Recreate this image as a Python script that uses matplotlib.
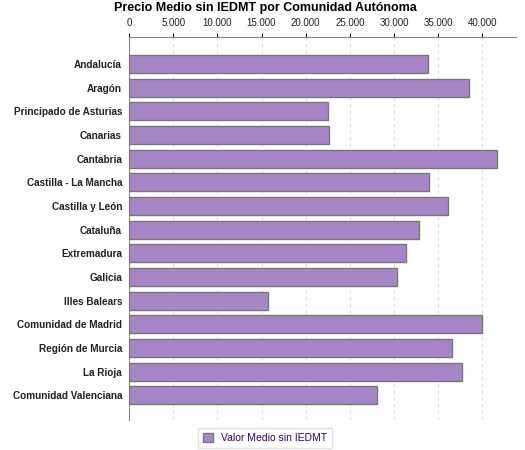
import matplotlib
matplotlib.use("Agg")
import matplotlib.pyplot as plt
from matplotlib.ticker import FuncFormatter

plt.rcParams['font.family'] = ['Liberation Sans', 'DejaVu Sans']

categories = ["Andalucía", "Aragón", "Principado de Asturias", "Canarias", "Cantabria",
              "Castilla - La Mancha", "Castilla y León", "Cataluña", "Extremadura", "Galicia",
              "Illes Balears", "Comunidad de Madrid", "Región de Murcia", "La Rioja",
              "Comunidad Valenciana"]
values = [33800, 38500, 22500, 22600, 41700, 34000, 36100, 32800, 31400, 30300,
          15700, 39900, 36500, 37700, 28100]

fig = plt.figure(figsize=(5.25, 4.5), dpi=100)
ax = fig.add_axes([129/525, 1-420/450, (516-129)/525, (420-37)/450])
ys = list(range(len(categories)))
ax.barh(ys, values, height=0.76, color="#a786c8", edgecolor="#777777", linewidth=1,
        label="Valor Medio sin IEDMT", zorder=3)
ax.set_ylim(len(categories)-1+1.05, -1.15)
ax.set_xlim(0, 43800)
ax.set_yticks(ys)
ax.set_yticklabels(categories, fontsize=7.2, fontweight="bold", color="#222222")
ax.set_xticks(range(0, 40001, 5000))
ax.xaxis.set_major_formatter(FuncFormatter(lambda v, p: f"{int(v):,}".replace(",", ".")))
ax.tick_params(axis="x", top=True, labeltop=True, bottom=False, labelbottom=False,
               labelsize=7, length=3, colors="#222222")
ax.tick_params(axis="y", length=0, pad=5)
ax.grid(axis="x", linestyle=(0, (3, 3)), color="#dddddd", linewidth=0.8, zorder=0)
ax.spines["right"].set_visible(False)
ax.spines["bottom"].set_visible(False)
ax.spines["top"].set_color("#888888")
ax.spines["left"].set_color("#888888")
fig.text(265/525, 1-8/450, "Precio Medio sin IEDMT por Comunidad Autónoma", fontsize=9,
         fontweight="bold", ha="center", va="center")
fig.legend(loc="center", bbox_to_anchor=(265/525, 1-438/450), fontsize=7.5, frameon=True,
           fancybox=False, edgecolor="#dddddd", labelcolor="#330066",
           handlelength=0.9, handleheight=0.9, borderpad=0.5)
fig.savefig("out.png", dpi=100)
